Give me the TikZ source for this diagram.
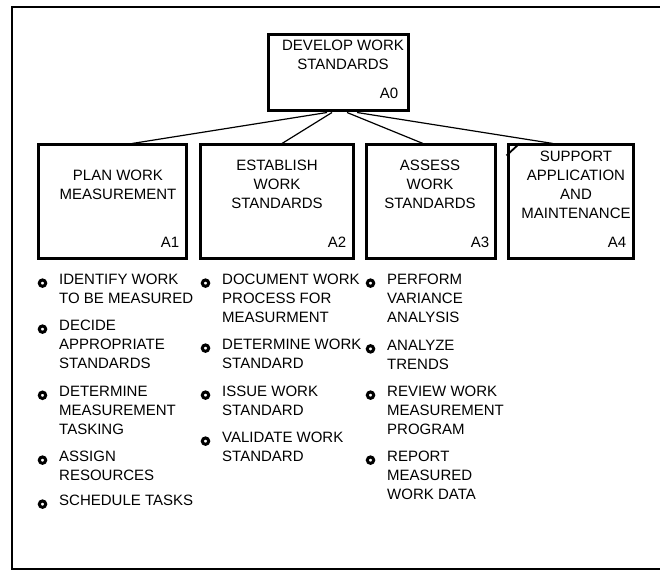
\documentclass[tikz,border=0pt]{standalone}
\usepackage{fontspec}
\setmainfont{Liberation Sans}
\usepackage{tikz}
\usetikzlibrary{positioning}
\tikzstyle{funcbox} = [draw, line width=3pt, inner sep=0pt]
\tikzstyle{boxtext} = [align=center, inner sep=0pt, anchor=base]
\tikzstyle{boxnum} = [inner sep=0pt, anchor=base east]
\tikzstyle{itemtext} = [align=left, inner sep=0pt, anchor=base west]
\tikzstyle{dot} = [circle, draw, line width=3pt, minimum size=6.4pt, inner sep=0pt]
\tikzstyle{link} = [line width=1.2pt]

\begin{document}
\begin{tikzpicture}[x=1pt, y=-1pt, font=\fontsize{15}{19}\selectfont]
\useasboundingbox (0,0) rectangle (660,572);
% frame
\draw [line width=1.3pt] (660,7) -- (12,7) -- (12,569) -- (660,569);

% node tree
\node (a0) [funcbox, minimum width=140pt, minimum height=76pt] at (338,73) {};
\node (a1) [funcbox, minimum width=148pt, minimum height=113pt] at (112,201.5) {};
\node (a2) [funcbox, minimum width=153pt, minimum height=113pt] at (276.5,201.5) {};
\node (a3) [funcbox, minimum width=129pt, minimum height=113pt] at (430.5,201.5) {};
\node (a4) [funcbox, minimum width=125pt, minimum height=113pt] at (570.5,201.5) {};
\draw [line width=1.8pt] ([yshift=-12pt]a4.north west) -- ([xshift=13pt]a4.north west);

% texts sit on the baseline of their last line
\node (t0) [boxtext] at (343,69.4) {DEVELOP WORK\\STANDARDS};
\node (t1) [boxtext] at (118,199.4) {PLAN WORK\\MEASUREMENT};
\node (t2) [boxtext] at (277,208.4) {ESTABLISH\\WORK\\STANDARDS};
\node (t3) [boxtext] at (430,208.4) {ASSESS\\WORK\\STANDARDS};
\node (t4) [boxtext] at (576,218.4) {SUPPORT\\APPLICATION\\AND\\MAINTENANCE};

\node (n0) [boxnum] at ([xshift=-11pt, yshift=14pt]a0.south east) {A0};
\node (n1) [boxnum] at ([xshift=-8pt, yshift=12.5pt]a1.south east) {A1};
\node (n2) [boxnum] at ([xshift=-8pt, yshift=12.5pt]a2.south east) {A2};
\node (n3) [boxnum] at ([xshift=-7pt, yshift=12.5pt]a3.south east) {A3};
\node (n4) [boxnum] at ([xshift=-8pt, yshift=12.5pt]a4.south east) {A4};

\draw [link] ([xshift=-11pt]a0.south) -- ([xshift=20pt]a1.north);
\draw [link] ([xshift=-6pt]a0.south) -- ([xshift=5.5pt]a2.north);
\draw [link] ([xshift=9pt]a0.south) -- ([xshift=-7.5pt]a3.north);
\draw [link] ([xshift=19pt]a0.south) -- ([xshift=-17.5pt]a4.north);

% activities under A1
\node (i11) [itemtext] at (59,303.4) {IDENTIFY WORK\\TO BE MEASURED};
\node (i12) [itemtext] at (59,368.4) {DECIDE\\APPROPRIATE\\STANDARDS};
\node (i13) [itemtext] at (59,434.4) {DETERMINE\\MEASUREMENT\\TASKING};
\node (i14) [itemtext] at (59,480.4) {ASSIGN\\RESOURCES};
\node (i15) [itemtext] at (59,505.4) {SCHEDULE TASKS};
% activities under A2
\node (i21) [itemtext] at (222,322.4) {DOCUMENT WORK\\PROCESS FOR\\MEASURMENT};
\node (i22) [itemtext] at (222,368.4) {DETERMINE WORK\\STANDARD};
\node (i23) [itemtext] at (222,415.4) {ISSUE WORK\\STANDARD};
\node (i24) [itemtext] at (222,461.4) {VALIDATE WORK\\STANDARD};
% activities under A3
\node (i31) [itemtext] at (387,322.4) {PERFORM\\VARIANCE\\ANALYSIS};
\node (i32) [itemtext] at (387,369) {ANALYZE\\TRENDS};
\node (i33) [itemtext] at (387,434.4) {REVIEW WORK\\MEASUREMENT\\PROGRAM};
\node (i34) [itemtext] at (387,499.4) {REPORT\\MEASURED\\WORK DATA};

\node (d11) [dot] at ([xshift=-16.5pt, yshift=-9.4pt]i11.north west) {};
\node (d12) [dot] at ([xshift=-16.5pt, yshift=-9.4pt]i12.north west) {};
\node (d13) [dot] at ([xshift=-16.5pt, yshift=-9.4pt]i13.north west) {};
\node (d14) [dot] at ([xshift=-16.5pt, yshift=-9.4pt]i14.north west) {};
\node (d15) [dot] at ([xshift=-16.5pt, yshift=-9.4pt]i15.north west) {};
\node (d21) [dot] at ([xshift=-16.5pt, yshift=-9.4pt]i21.north west) {};
\node (d22) [dot] at ([xshift=-16.5pt, yshift=-9.4pt]i22.north west) {};
\node (d23) [dot] at ([xshift=-16.5pt, yshift=-9.4pt]i23.north west) {};
\node (d24) [dot] at ([xshift=-16.5pt, yshift=-9.4pt]i24.north west) {};
\node (d31) [dot] at ([xshift=-16.5pt, yshift=-9.4pt]i31.north west) {};
\node (d32) [dot] at ([xshift=-16.5pt, yshift=-9.4pt]i32.north west) {};
\node (d33) [dot] at ([xshift=-16.5pt, yshift=-9.4pt]i33.north west) {};
\node (d34) [dot] at ([xshift=-16.5pt, yshift=-9.4pt]i34.north west) {};
\end{tikzpicture}
\end{document}
